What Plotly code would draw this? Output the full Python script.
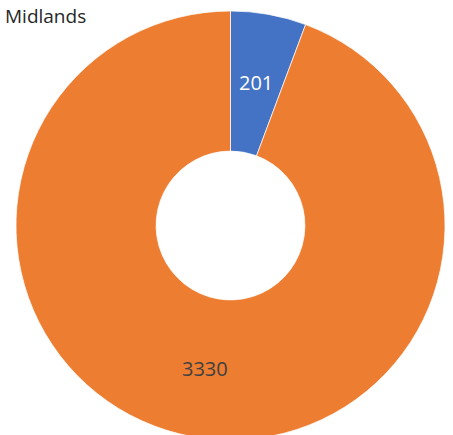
import math
import plotly.graph_objects as go

title = "Midlands"
categories = ["A", "B"]
values = [201, 3330]
colors = ["#4472C4", "#ED7D31"]
text_colors = ["#FFFFFF", "#404040"]

W, H = 453, 451
cx, cy, r = 230.5, 225.5, 214.5  # pixels from top-left
hole = 0.347

fig = go.Figure(go.Pie(
    labels=categories,
    values=values,
    hole=hole,
    sort=False,
    direction="clockwise",
    rotation=0,
    marker=dict(colors=colors, line=dict(color="#FFFFFF", width=0.7)),
    textinfo="none",
    showlegend=False,
    hoverinfo="none",
    domain=dict(x=[(cx - r) / W, (cx + r) / W], y=[(H - cy - r) / H, (H - cy + r) / H]),
))

# data labels at the middle of the ring, at each slice's mid angle
total = sum(values)
acc = 0
rm = r * (1 + hole) / 2 + 1
for v, tc in zip(values, text_colors):
    mid = (acc + v / 2) / total * 2 * math.pi
    acc += v
    px = cx + rm * math.sin(mid)
    py = cy - rm * math.cos(mid)
    fig.add_annotation(
        text=str(v), xref="paper", yref="paper", x=px / W, y=1 - py / H,
        xanchor="center", yanchor="middle", showarrow=False,
        font=dict(family="Open Sans", size=20, color=tc),
    )

fig.add_annotation(
    text=title, xref="paper", yref="paper", x=3 / W, y=1 - 1 / H,
    xanchor="left", yanchor="top", showarrow=False,
    font=dict(family="Open Sans", size=19, color="#262626"),
)

fig.update_layout(
    width=W, height=H,
    margin=dict(l=0, r=0, t=0, b=0),
    paper_bgcolor="white", plot_bgcolor="white",
)

fig.write_html("out.html", post_script="document.body.style.overflow='hidden';document.body.style.margin='0';")
